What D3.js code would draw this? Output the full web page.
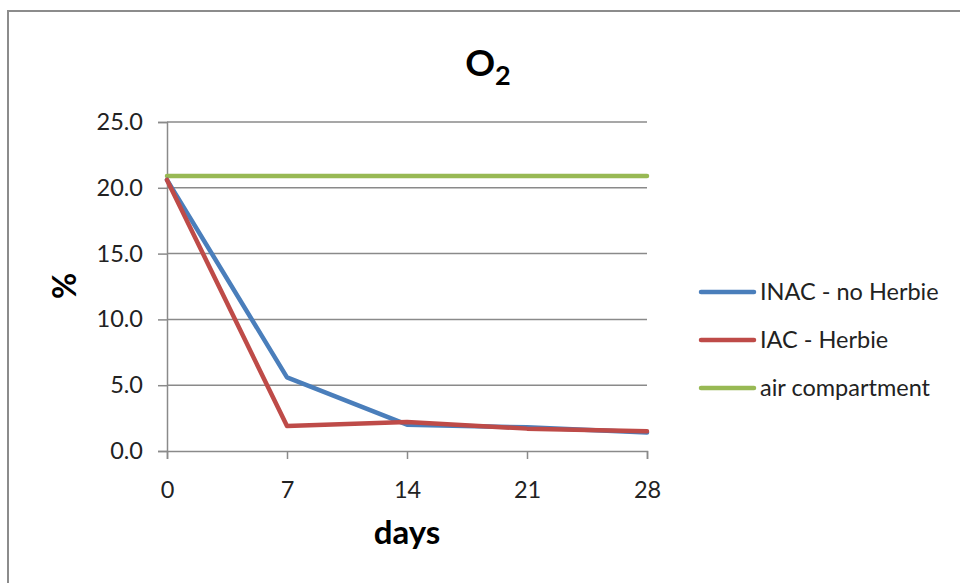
<!DOCTYPE html>
<html>
<head>
<meta charset="utf-8">
<script src="https://cdn.jsdelivr.net/npm/d3@7"></script>
<style>
  body { margin: 0; background: #fff; }
  svg { display: block; font-family: Lato, "Open Sans", sans-serif; }
</style>
</head>
<body>
<svg width="960" height="583"></svg>
<script>
// data
const days = [0, 7, 14, 21, 28];
const inac = [20.6, 5.6, 2.0, 1.8, 1.4];
const iac = [20.6, 1.9, 2.2, 1.7, 1.5];
const air = [20.9, 20.9, 20.9, 20.9, 20.9];
const yTicks = [0, 5, 10, 15, 20, 25];

const series = [
    { name: "INAC - no Herbie", values: inac, color: "#4a7ebb" },
    { name: "IAC - Herbie", values: iac, color: "#be4b48" },
    { name: "air compartment", values: air, color: "#98b954" },
];

const svg = d3.select("svg");

// chart frame
svg.append("rect")
    .attr("x", 8).attr("y", 11)
    .attr("width", 1000).attr("height", 700)
    .attr("fill", "#fff")
    .attr("stroke", "#8c8c8c")
    .attr("stroke-width", 2);

const x = d3.scaleLinear().domain([0, 28]).range([167, 647]);
const y = d3.scaleLinear().domain([0, 25]).range([451, 122]);

// gridlines
svg.append("g")
    .selectAll("line")
    .data(yTicks.filter((d) => d > 0))
    .enter()
    .append("line")
    .attr("x1", x(0)).attr("x2", x(28))
    .attr("y1", (d) => y(d)).attr("y2", (d) => y(d))
    .attr("stroke", "#8a8a8a")
    .attr("stroke-width", 1.5);

const yAxis = svg.append("g")
    .attr("transform", `translate(${x(0)},0)`)
    .call(d3.axisLeft(y).tickValues(yTicks).tickSize(9).tickPadding(15).tickFormat(d3.format(".1f")));

const xAxis = svg.append("g")
    .attr("transform", `translate(0,${y(0)})`)
    .call(d3.axisBottom(x).tickValues(days).tickSize(8).tickPadding(22));

[yAxis, xAxis].forEach((g) => {
    g.select(".domain").attr("stroke", "#8a8a8a").attr("stroke-width", 1.5);
    g.selectAll(".tick line").attr("stroke", "#8a8a8a").attr("stroke-width", 1.5);
    g.selectAll("text").attr("font-size", 23.5).attr("fill", "#222").attr("font-family", "Lato, sans-serif");
});

// lines
const line = d3.line()
    .x((d, i) => x(days[i]))
    .y((d) => y(d));

svg.append("g")
    .selectAll("path")
    .data([series[2], series[0], series[1]])
    .enter()
    .append("path")
    .attr("d", (d) => line(d.values))
    .attr("fill", "none")
    .attr("stroke", (d) => d.color)
    .attr("stroke-width", 4.5)
    .attr("stroke-linejoin", "round")
    .attr("stroke-linecap", "round");

// title
const title = svg.append("text")
    .attr("x", 488).attr("y", 76)
    .attr("text-anchor", "middle")
    .attr("font-size", 37)
    .attr("font-weight", "bold")
    .attr("fill", "#000");
title.append("tspan").text("O");
title.append("tspan").attr("font-size", 27).attr("dy", 9).text("2");

// axis titles
svg.append("text")
    .attr("x", 407).attr("y", 544)
    .attr("text-anchor", "middle")
    .attr("font-size", 33)
    .attr("font-weight", "bold")
    .text("days");

svg.append("text")
    .attr("transform", "translate(76,286) rotate(-90)")
    .attr("text-anchor", "middle")
    .attr("font-size", 32)
    .attr("font-weight", "bold")
    .text("%");

// legend
const legend = svg.append("g")
    .selectAll("g")
    .data(series)
    .enter()
    .append("g")
    .attr("transform", (d, i) => `translate(701,${292 + i * 48})`);

legend.append("line")
    .attr("x1", 0).attr("x2", 53)
    .attr("stroke", (d) => d.color)
    .attr("stroke-width", 4.5)
    .attr("stroke-linecap", "round");

legend.append("text")
    .attr("x", 59).attr("y", 8)
    .attr("font-size", 23.5)
    .attr("fill", "#222")
    .text((d) => d.name);
</script>
</body>
</html>
